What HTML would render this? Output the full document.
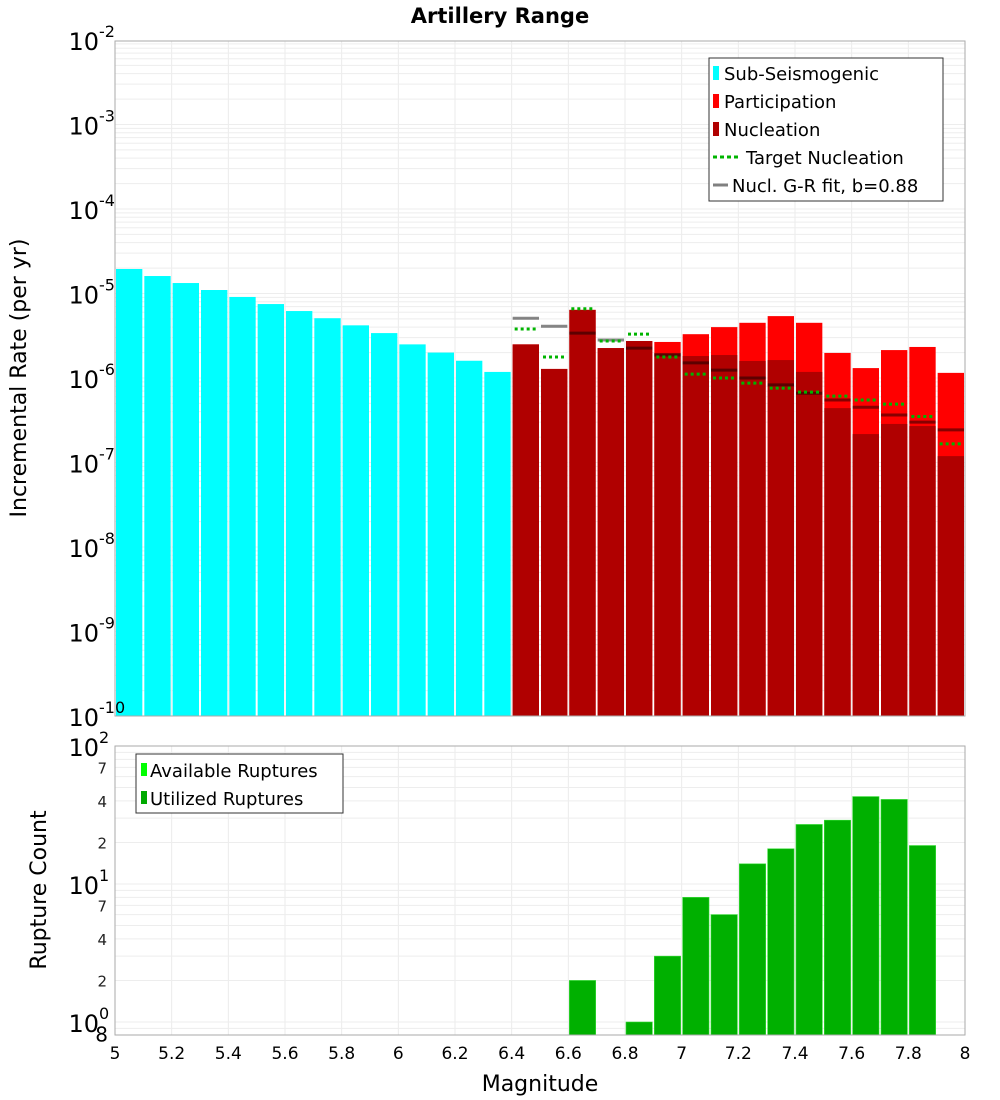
<!DOCTYPE html>
<html><head><meta charset="utf-8"><style>
body{margin:0;background:#fff;}
svg{display:block;font-family:"DejaVu Sans","Liberation Sans",sans-serif;}
</style></head><body>
<svg id="chart" width="1000" height="1100" xmlns="http://www.w3.org/2000/svg">
<rect width="1000" height="1100" fill="#fff"/>
<text x="500" y="23" text-anchor="middle" font-size="21" font-weight="bold">Artillery Range</text>
<g id="grid"></g>
<g id="bars"></g>
<g id="lines"></g>
<rect x="115" y="41" width="850" height="675" fill="none" stroke="#aaa"/>
<rect x="115" y="746" width="850" height="289" fill="none" stroke="#aaa"/>
<g id="ticks"></g>
<text transform="translate(26,378) rotate(-90)" text-anchor="middle" font-size="22">Incremental Rate (per yr)</text>
<text transform="translate(46,890) rotate(-90)" text-anchor="middle" font-size="22">Rupture Count</text>
<text x="540" y="1091" text-anchor="middle" font-size="22">Magnitude</text>
<g>
<rect x="709" y="58" width="234" height="143" fill="#fff" stroke="#333"/>
<rect x="713" y="66" width="6" height="14" fill="#00ffff"/><text x="724" y="80" font-size="18">Sub-Seismogenic</text>
<rect x="713" y="94" width="6" height="14" fill="#ff0000"/><text x="724" y="108" font-size="18">Participation</text>
<rect x="713" y="122" width="6" height="14" fill="#b00000"/><text x="724" y="136" font-size="18">Nucleation</text>
<line x1="713" y1="157" x2="741" y2="157" stroke="#00b400" stroke-width="3" stroke-dasharray="4,3"/><text x="746" y="164" font-size="18">Target Nucleation</text>
<line x1="713" y1="185" x2="728" y2="185" stroke="#808080" stroke-width="3"/><text x="732" y="192" font-size="18">Nucl. G-R fit, b=0.88</text>
</g>
<g>
<rect x="136" y="754" width="207" height="59" fill="#fff" stroke="#333"/>
<rect x="141" y="763" width="6" height="13" fill="#00ff00"/><text x="150" y="777" font-size="18">Available Ruptures</text>
<rect x="141" y="791" width="6" height="13" fill="#00aa00"/><text x="150" y="805" font-size="18">Utilized Ruptures</text>
</g>
</svg>
<script>
const binStarts = [5.0,5.1,5.2,5.3,5.4,5.5,5.6,5.7,5.8,5.9,6.0,6.1,6.2,6.3];
const subSeis = [1.95e-5,1.61e-5,1.33e-5,1.10e-5,9.1e-6,7.5e-6,6.2e-6,5.1e-6,4.2e-6,3.4e-6,2.5e-6,2.0e-6,1.6e-6,1.18e-6];
const supraBins = [6.4,6.5,6.6,6.7,6.8,6.9,7.0,7.1,7.2,7.3,7.4,7.5,7.6,7.7,7.8,7.9];
const participation = [2.5e-6,1.28e-6,6.4e-6,2.26e-6,2.74e-6,2.67e-6,3.3e-6,4.0e-6,4.5e-6,5.4e-6,4.5e-6,1.98e-6,1.31e-6,2.14e-6,2.33e-6,1.15e-6];
const nucleation = [2.5e-6,1.28e-6,6.4e-6,2.26e-6,2.74e-6,1.98e-6,1.82e-6,1.87e-6,1.59e-6,1.63e-6,1.18e-6,4.4e-7,2.17e-7,2.86e-7,2.7e-7,1.19e-7];
const targetNucl = [3.8e-6,1.77e-6,6.6e-6,2.74e-6,3.3e-6,1.77e-6,1.11e-6,1.0e-6,8.7e-7,7.6e-7,6.8e-7,6.1e-7,5.5e-7,4.9e-7,3.5e-7,1.66e-7];
const grFit = [5.1e-6,4.1e-6,3.4e-6,2.82e-6,2.26e-6,1.87e-6,1.51e-6,1.24e-6,1.0e-6,8.3e-7,6.6e-7,5.5e-7,4.5e-7,3.65e-7,3.0e-7,2.43e-7];
const countBins = [6.6,6.8,6.9,7.0,7.1,7.2,7.3,7.4,7.5,7.6,7.7,7.8];
const utilized = [2,1,3,8,6,14,18,27,29,43,41,19];
const xTicks = [5,5.2,5.4,5.6,5.8,6,6.2,6.4,6.6,6.8,7,7.2,7.4,7.6,7.8,8];
const topExps = [-2,-3,-4,-5,-6,-7,-8,-9,-10];
const botMinor = [2,4,7];

const NS="http://www.w3.org/2000/svg";
const X=m=>115+(m-5)*850/3;
const YT=v=>40+(-2-Math.log10(v))*84.5;
const YB=v=>746+(2-Math.log10(v))*138;
const W=850/30;
function mk(parent,tag,attrs,text){const e=document.createElementNS(NS,tag);for(const k in attrs)e.setAttribute(k,attrs[k]);if(text!==undefined)e.textContent=text;document.getElementById(parent).appendChild(e);return e;}

// grid
xTicks.forEach(t=>{
 let g=mk('grid','line',{x1:X(t),x2:X(t),y1:41,y2:716,stroke:'#ebebeb'});
 
 
 let g2=mk('grid','line',{x1:X(t),x2:X(t),y1:746,y2:1035,stroke:'#ebebeb'});
 
 
});
for(let e=-10;e<-2;e++){for(let k=1;k<10;k++){const y=YT(k*Math.pow(10,e));
 let g=mk('grid','line',{x1:115,x2:965,y1:y,y2:y,stroke:'#ededed'});
 
 }}
for(let e=-1;e<2;e++){for(let k=1;k<10;k++){const v=k*Math.pow(10,e);const y=YB(v);if(y>1035)continue;
 let g=mk('grid','line',{x1:115,x2:965,y1:y,y2:y,stroke:'#ededed'});
 
 }}

// bars
binStarts.forEach((m,i)=>{const y=YT(subSeis[i]);
 let r=mk('bars','rect',{x:X(m)+1,y:y,width:W-2,height:716-y,fill:'#00ffff'});
 
 });
supraBins.forEach((m,i)=>{const y=YT(participation[i]);
 let r=mk('bars','rect',{x:X(m)+1,y:y,width:W-2,height:716-y,fill:'#ff0000'});
 
 
 const y2=YT(nucleation[i]);
 let r2=mk('bars','rect',{x:X(m)+1,y:y2,width:W-2,height:716-y2,fill:'#b00000'});
 
 });
countBins.forEach((m,i)=>{const y=YB(utilized[i]);
 let r=mk('bars','rect',{x:X(m)+1,y:y,width:W-2,height:1035-y,fill:'#00b000',stroke:'#33dd33','stroke-width':0.6});
 
 });

// lines
supraBins.forEach((m,i)=>{
 const yg=YT(grFit[i]);
 let l=mk('lines','line',{x1:X(m)+1,x2:X(m)+W-1,y1:yg,y2:yg,stroke:'rgba(0,0,0,0.47)','stroke-width':3});
 
 
 const yt=YT(targetNucl[i]);
 let l2=mk('lines','line',{x1:X(m)+3,x2:X(m)+W-3,y1:yt,y2:yt,stroke:'#00b400','stroke-width':3,'stroke-dasharray':'3,3'});
 
 });

// ticks
xTicks.forEach(t=>{
 let tx=mk('ticks','text',{x:X(t),y:1059,'text-anchor':'middle','font-size':17},String(t));
 
 });
topExps.forEach(e=>{const y=YT(Math.pow(10,e));
 let tx=mk('ticks','text',{x:99,y:y+10,'text-anchor':'end','font-size':24},'10');
 
 
 let sp=mk('ticks','text',{x:99,y:y-3,'font-size':16},String(e));
 
 });
[2,1,0].forEach(e=>{const y=YB(Math.pow(10,e));
 let tx=mk('ticks','text',{x:99,y:y+10,'text-anchor':'end','font-size':24},'10');
 
 
 let sp=mk('ticks','text',{x:99,y:y-3,'font-size':16},String(e));
 
 });
[1,0].forEach(e=>{botMinor.forEach(k=>{const y=YB(k*Math.pow(10,e));
 let tx=mk('ticks','text',{x:107,y:y+6,'text-anchor':'end','font-size':15,fill:'#222'},String(k));
 
 });});
let t8=mk('ticks','text',{x:108,y:YB(0.8)+6,'text-anchor':'end','font-size':20},'8');


</script>
</body></html>
